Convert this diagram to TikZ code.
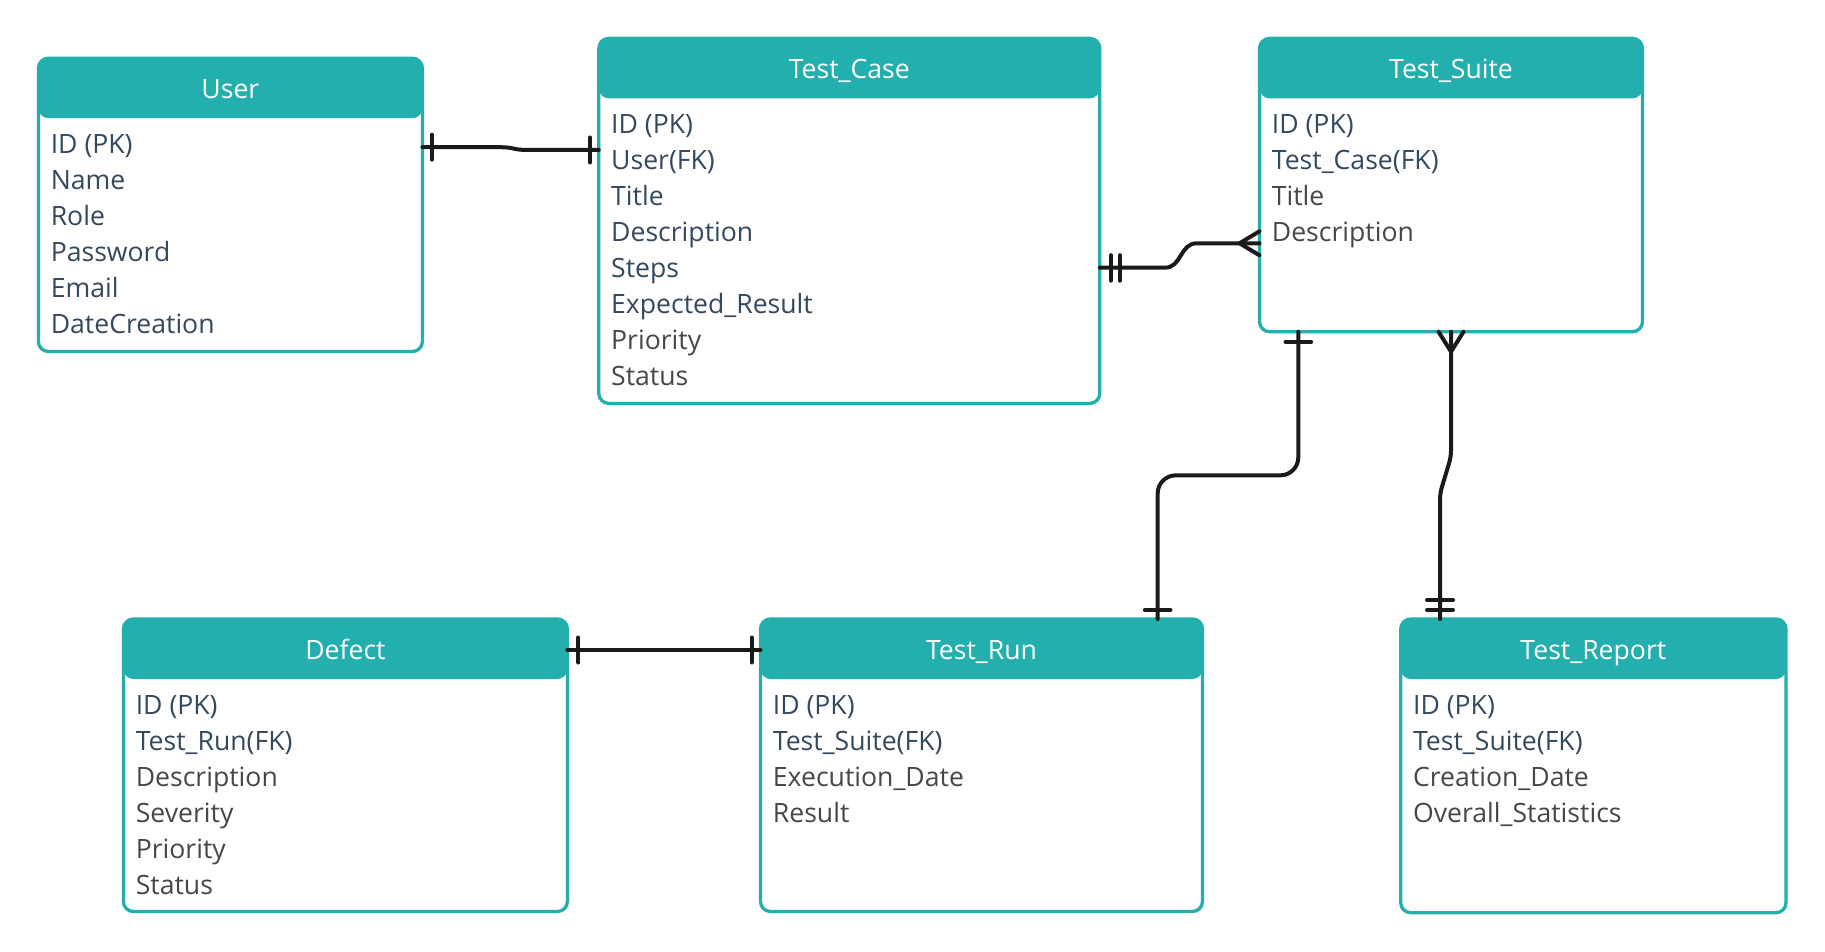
\documentclass[tikz,border=0pt]{standalone}
\usepackage{fontspec}
\setmainfont{Open Sans}
\usetikzlibrary{calc}
\definecolor{er teal}{HTML}{23AFAD}
\definecolor{er line}{HTML}{1A1A1A}
\definecolor{field navy}{HTML}{34495E}
\definecolor{field grey}{HTML}{474747}
\newcommand{\erFields}[3]{%
  \foreach \txt [count=\i] in {#3} {%
    \ifnum\i>#2\relax\def\rc{field grey}\else\def\rc{field navy}\fi
    \node[field, text=\rc] (#1-\i) at ($(#1.north west)+(12,{59+36*\i})$) {\txt};
  }}
\tikzset{
  entity/.style={draw=er teal, line width=1.65pt, rounded corners=5pt,
    anchor=north west, inner sep=0pt, outer sep=0pt,
    path picture={\fill[er teal] (path picture bounding box.north west)
      rectangle ([yshift=-30pt]path picture bounding box.north east);}},
  header/.style={anchor=base, inner sep=0pt, text=white,
    font=\fontsize{13.3pt}{16pt}\selectfont},
  field/.style={anchor=base west, inner sep=0pt,
    font=\fontsize{13.3pt}{16pt}\selectfont},
  rel/.style={draw=er line, line width=2pt, line cap=round, line join=round},
  erTick/.style={draw=er line, line width=2pt, line cap=round}
}
\begin{document}
\begin{tikzpicture}[x=0.5pt, y=-0.5pt]
    \fill[white] (0,0) rectangle (1825,952);
    \useasboundingbox (0,0) rectangle (1825,952);
    % entities
    \node[entity, minimum width=192pt, minimum height=146.65pt] (user) at (38.4,58.2) {};
    \node[entity, minimum width=250.5pt, minimum height=182.5pt] (tcase) at (598.8,38.4) {};
    \node[entity, minimum width=191.5pt, minimum height=146.65pt] (tsuite) at (1259.5,38.4) {};
    \node[entity, minimum width=222pt, minimum height=146.25pt] (defect) at (123.4,619) {};
    \node[entity, minimum width=221pt, minimum height=146.25pt] (trun) at (760.5,619) {};
    \node[entity, minimum width=192.65pt, minimum height=146.85pt] (treport) at (1400.7,619) {};
    \node[header] (user-h) at ($(user.north)+(0,40)$) {User};
    \node[header] (tcase-h) at ($(tcase.north)+(0,40)$) {Test\_Case};
    \node[header] (tsuite-h) at ($(tsuite.north)+(0,40)$) {Test\_Suite};
    \node[header] (defect-h) at ($(defect.north)+(0,40)$) {Defect};
    \node[header] (trun-h) at ($(trun.north)+(0,40)$) {Test\_Run};
    \node[header] (treport-h) at ($(treport.north)+(0,40)$) {Test\_Report};
    \erFields{user}{6}{ID (PK), Name, Role, Password, Email, DateCreation}
    \erFields{tcase}{6}{ID (PK), User(FK), Title, Description, Steps, Expected\_Result, Priority, Status}
    \erFields{tsuite}{2}{ID (PK), Test\_Case(FK), Title, Description}
    \erFields{defect}{2}{ID (PK), Test\_Run(FK), Description, Severity, Priority, Status}
    \erFields{trun}{2}{ID (PK), Test\_Suite(FK), Execution\_Date, Result}
    \erFields{treport}{2}{ID (PK), Test\_Suite(FK), Creation\_Date, Overall\_Statistics}
    % User -- Test_Case
    \draw[rel] ($(user.north east)+(0,89)$) -- ++(78,0)
        .. controls +(14,0) and +(-14,0) .. ++(26,2.7) -- ($(tcase.north west)+(0,111.6)$);
    \draw[erTick] ($(user.north east)+(9.3,76.5)$) -- ++(0,25);
    \draw[erTick] ($(tcase.north west)+(-9,99.1)$) -- ++(0,25);
    % Test_Case -- Test_Suite
    \draw[rel] ($(tcase.north east)+(0,229.3)$) -- ++(65,0)
        .. controls +(17,0) and +(-17,0) .. ++(32,-24.4) -- ($(tsuite.north west)+(0,204.9)$);
    \draw[erTick] ($(tcase.north east)+(11,216.8)$) -- ++(0,25.5);
    \draw[erTick] ($(tcase.north east)+(20,216.8)$) -- ++(0,25.5);
    \draw[rel] ($(tsuite.north west)+(0,192.9)$) -- ($(tsuite.north west)+(-20,204.9)$)
        -- ($(tsuite.north west)+(0,216.9)$);
    % Test_Suite -- Test_Run
    \coordinate (rs) at ($(tsuite.south west)+(38.8,0)$);
    \coordinate (re) at ($(trun.north west)+(397.2,0)$);
    \coordinate (runMid) at ($(tsuite.south)!.5!(trun.north)$);
    \draw[rel, rounded corners=9pt] (rs) -- (rs |- runMid) -- (re |- runMid) -- (re);
    \draw[erTick] ($(rs)+(-12.8,10)$) -- ++(25.6,0);
    \draw[erTick] ($(re)+(-12.8,-9)$) -- ++(25.6,0);
    % Test_Suite -- Test_Report
    \coordinate (ps) at (tsuite.south);
    \coordinate (pe) at ($(treport.north west)+(39.3,0)$);
    \draw[rel, rounded corners=3pt] (ps) -- ++(0,125) -- ++(-11,36.6) -- (pe);
    \draw[rel] ($(ps)+(-12.5,0)$) -- ($(ps)+(0,20)$) -- ($(ps)+(12.5,0)$);
    \draw[erTick] ($(pe)+(-13,-19)$) -- ++(26,0);
    \draw[erTick] ($(pe)+(-13,-9)$) -- ++(26,0);
    % Defect -- Test_Run
    \draw[rel] ($(defect.north east)+(0,31)$) -- ($(trun.north west)+(0,31)$);
    \draw[erTick] ($(defect.north east)+(11,18.5)$) -- ++(0,25);
    \draw[erTick] ($(trun.north west)+(-9,18.5)$) -- ++(0,25);
\end{tikzpicture}
\end{document}
